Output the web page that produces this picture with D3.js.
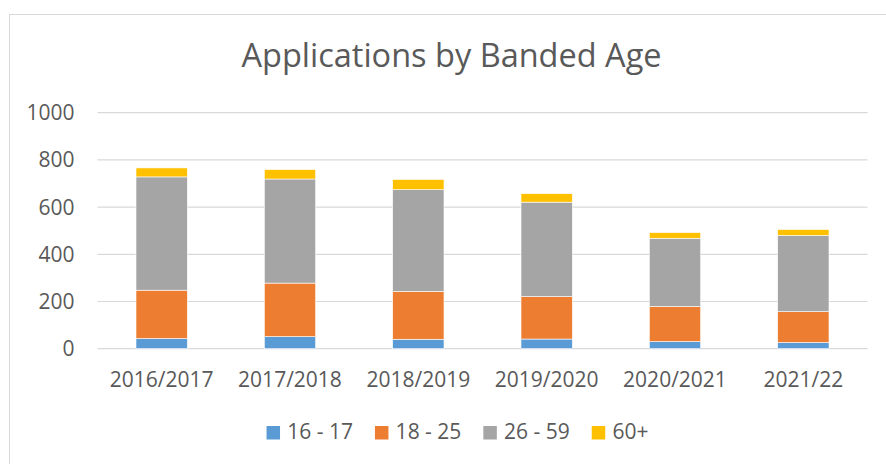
<!DOCTYPE html>
<html lang="en">
<head>
  <meta charset="UTF-8">
  <title>Applications by Banded Age</title>
  <style>
    body { margin: 0; background: #fff; }
    svg { display: block; font-family: "Open Sans", sans-serif; }
    .tick-label, .cat-label, .legend-label { fill: #595959; font-size: 21px; }
    .title { fill: #595959; font-size: 32.5px; }
  </style>
</head>
<body>
<div id="chart"></div>

<script src="https://cdn.jsdelivr.net/npm/d3@7"></script>
<script>
  const years = ["2016/2017", "2017/2018", "2018/2019", "2019/2020", "2020/2021", "2021/22"];
  const age16to17 = [43, 51, 40, 41, 30, 26];
  const age18to25 = [205, 227, 203, 180, 149, 131];
  const age26to59 = [480, 441, 431, 400, 289, 323];
  const age60plus = [38, 40, 43, 36, 24, 25];
  const seriesNames = ["16 - 17", "18 - 25", "26 - 59", "60+"];
  const yTicks = [0, 200, 400, 600, 800, 1000];

  const colors = ["#5B9BD5", "#ED7D31", "#A5A5A5", "#FFC000"];

  const width = 886, height = 464;
  const plot = {left: 97.5, right: 867.5, top: 112.7, bottom: 348.7};

  const svg = d3.select("#chart").append("svg")
    .attr("width", width)
    .attr("height", height);

  // chart frame (only left and top edges fall inside the picture)
  svg.append("rect")
    .attr("x", 9.5).attr("y", 14.5)
    .attr("width", width + 20).attr("height", height + 20)
    .attr("fill", "none")
    .attr("stroke", "#D9D9D9");

  const table = years.map((y, i) => ({
    year: y,
    "16 - 17": age16to17[i],
    "18 - 25": age18to25[i],
    "26 - 59": age26to59[i],
    "60+": age60plus[i]
  }));
  const stacked = d3.stack().keys(seriesNames)(table);

  const xScale = d3.scaleBand()
    .domain(years)
    .range([plot.left, plot.right])
    .paddingInner(0.6)
    .paddingOuter(0.3);

  const yScale = d3.scaleLinear()
    .domain([0, 1000])
    .range([plot.bottom, plot.top]);

  // gridlines
  svg.append("g")
    .selectAll("line")
    .data(yTicks)
    .join("line")
    .attr("x1", plot.left)
    .attr("x2", plot.right)
    .attr("y1", d => yScale(d))
    .attr("y2", d => yScale(d))
    .attr("stroke", "#D9D9D9")
    .attr("stroke-width", 1.2);

  // y tick labels
  svg.append("g")
    .selectAll("text")
    .data(yTicks)
    .join("text")
    .attr("class", "tick-label")
    .attr("x", 74.5)
    .attr("y", d => yScale(d))
    .attr("dy", "0.36em")
    .attr("text-anchor", "end")
    .text(d => d);

  // bars
  svg.append("g")
    .selectAll("g")
    .data(stacked)
    .join("g")
    .attr("fill", (d, i) => colors[i])
    .selectAll("rect")
    .data(d => d)
    .join("rect")
    .attr("x", d => xScale(d.data.year))
    .attr("width", xScale.bandwidth())
    .attr("y", d => yScale(d[1]))
    .attr("height", d => yScale(d[0]) - yScale(d[1]))
    .attr("stroke", "#fff")
    .attr("stroke-width", 0.6);

  // category labels
  svg.append("g")
    .selectAll("text")
    .data(years)
    .join("text")
    .attr("class", "cat-label")
    .attr("x", d => xScale(d) + xScale.bandwidth() / 2)
    .attr("y", 386.7)
    .attr("text-anchor", "middle")
    .text(d => d);

  // title
  svg.append("text")
    .attr("class", "title")
    .attr("x", 451.5)
    .attr("y", 66.7)
    .attr("text-anchor", "middle")
    .text("Applications by Banded Age");

  // legend
  const legend = svg.append("g");
  const items = legend.selectAll("g")
    .data(seriesNames)
    .join("g");
  items.append("rect")
    .attr("width", 13.5).attr("height", 13.5)
    .attr("y", 426)
    .attr("fill", (d, i) => colors[i]);
  items.append("text")
    .attr("class", "legend-label")
    .attr("x", 20.7)
    .attr("y", 439.3)
    .text(d => d);

  let cursor = 0;
  const offsets = [];
  items.each(function () {
    offsets.push(cursor);
    cursor += 20.7 + this.querySelector("text").getComputedTextLength() + 22;
  });
  const totalWidth = cursor - 22;
  const start = 457.5 - totalWidth / 2;
  items.attr("transform", (d, i) => "translate(" + (start + offsets[i]) + ",0)");
</script>
</body>
</html>
